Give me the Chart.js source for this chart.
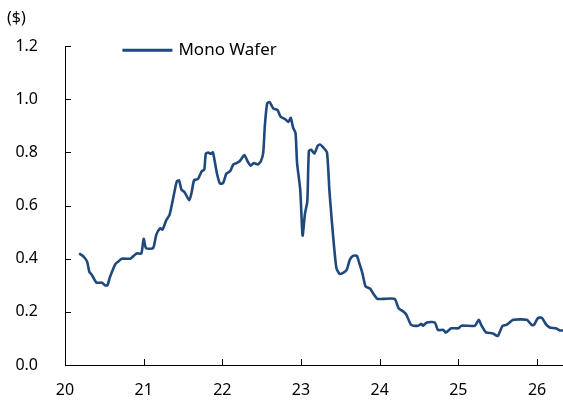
<!DOCTYPE html>
<html>
<head>
<meta charset="utf-8">
<script src="https://cdn.jsdelivr.net/npm/chart.js@4/dist/chart.umd.min.js"></script>
<style>
  html, body { margin: 0; padding: 0; background: #fff; }
  #wrap { width: 563px; height: 405px; }
</style>
</head>
<body>
<div id="wrap"><canvas id="wafer"></canvas></div>
<script>
// year (20 = 2020) and price in $ per wafer
const years = [
  20.18, 20.23, 20.28, 20.31, 20.34, 20.40, 20.47, 20.51, 20.54, 20.57,
  20.64, 20.68, 20.72, 20.83, 20.87, 20.91, 20.97, 21.00, 21.03, 21.12,
  21.16, 21.21, 21.24, 21.29, 21.33, 21.38, 21.42, 21.45, 21.48, 21.52,
  21.58, 21.61, 21.64, 21.69, 21.74, 21.77, 21.79, 21.82, 21.85, 21.88,
  21.93, 21.97, 22.01, 22.05, 22.10, 22.14, 22.18, 22.22, 22.28, 22.32,
  22.36, 22.40, 22.45, 22.49, 22.52, 22.54, 22.57, 22.60, 22.65, 22.70,
  22.74, 22.80, 22.84, 22.87, 22.90, 22.93, 22.95, 22.99, 23.02, 23.05,
  23.08, 23.10, 23.13, 23.17, 23.21, 23.24, 23.28, 23.33, 23.36, 23.39,
  23.42, 23.45, 23.49, 23.54, 23.58, 23.62, 23.66, 23.71, 23.74, 23.78,
  23.82, 23.88, 23.92, 23.97, 24.04, 24.19, 24.24, 24.30, 24.34, 24.40,
  24.49, 24.53, 24.55, 24.60, 24.70, 24.74, 24.81, 24.84, 24.91, 25.00,
  25.04, 25.21, 25.26, 25.29, 25.35, 25.44, 25.50, 25.56, 25.61, 25.70,
  25.87, 25.93, 25.96, 26.01, 26.06, 26.11, 26.16, 26.24, 26.29, 26.33
];
const prices = [
  0.42, 0.41, 0.39, 0.35, 0.34, 0.31, 0.31, 0.30, 0.30, 0.33,
  0.38, 0.39, 0.40, 0.40, 0.41, 0.42, 0.42, 0.475, 0.44, 0.44,
  0.49, 0.515, 0.51, 0.547, 0.566, 0.635, 0.69, 0.695, 0.66, 0.65,
  0.62, 0.65, 0.695, 0.70, 0.73, 0.735, 0.795, 0.80, 0.795, 0.80,
  0.723, 0.683, 0.685, 0.72, 0.73, 0.755, 0.76, 0.767, 0.79, 0.767,
  0.75, 0.76, 0.755, 0.767, 0.80, 0.90, 0.985, 0.99, 0.965, 0.96,
  0.935, 0.925, 0.915, 0.93, 0.893, 0.874, 0.76, 0.66, 0.487, 0.57,
  0.616, 0.805, 0.81, 0.796, 0.824, 0.83, 0.82, 0.80, 0.66, 0.547,
  0.446, 0.365, 0.343, 0.348, 0.358, 0.396, 0.411, 0.411, 0.384, 0.346,
  0.296, 0.287, 0.268, 0.249, 0.249, 0.249, 0.214, 0.201, 0.189, 0.151,
  0.148, 0.155, 0.148, 0.16, 0.16, 0.132, 0.132, 0.122, 0.138, 0.138,
  0.148, 0.148, 0.17, 0.151, 0.123, 0.119, 0.109, 0.147, 0.151, 0.17,
  0.17, 0.151, 0.151, 0.176, 0.178, 0.155, 0.141, 0.138, 0.13, 0.13
];
const xTicks = [20, 21, 22, 23, 24, 25, 26];
const yTicks = [0, 0.2, 0.4, 0.6, 0.8, 1.0, 1.2];

const lineColor = "#1F497D";
const fontFamily = "'Noto Sans', 'DejaVu Sans', sans-serif";

// tick marks pointing into the plot, plus the legend inside the plot
const insideBits = {
  id: "insideBits",
  afterDraw(chart) {
    const { ctx, chartArea, scales } = chart;
    ctx.save();
    ctx.strokeStyle = "#000";
    ctx.lineWidth = 1;
    ctx.beginPath();
    yTicks.forEach((v) => {
      const y = Math.round(scales.y.getPixelForValue(v)) + 0.5;
      ctx.moveTo(chartArea.left, y);
      ctx.lineTo(chartArea.left + 6, y);
    });
    xTicks.forEach((v) => {
      const x = Math.round(scales.x.getPixelForValue(v)) + 0.5;
      ctx.moveTo(x, chartArea.bottom);
      ctx.lineTo(x, chartArea.bottom - 6);
    });
    ctx.stroke();

    // legend
    const ds = chart.data.datasets[0];
    const lx = scales.x.getPixelForValue(20.73);
    const ly = chartArea.top + 4;
    ctx.strokeStyle = ds.borderColor;
    ctx.lineWidth = 3;
    ctx.beginPath();
    ctx.moveTo(lx, ly);
    ctx.lineTo(lx + 50, ly);
    ctx.stroke();
    ctx.fillStyle = "#000";
    ctx.font = "17px " + fontFamily;
    ctx.textBaseline = "middle";
    ctx.fillText(ds.label, lx + 56, ly);
    ctx.restore();
  }
};

new Chart(document.getElementById("wafer"), {
  type: "line",
  data: {
    datasets: [
      {
        label: "Mono Wafer",
        data: years.map((x, i) => ({ x: x, y: prices[i] })),
        borderColor: lineColor,
        borderWidth: 2.6,
        pointRadius: 0,
        tension: 0.2,
        fill: false,
      },
    ],
  },
  options: {
    responsive: true,
    maintainAspectRatio: false,
    animation: false,
    layout: { padding: { left: 7, right: 0, top: 9, bottom: 0 } },
    plugins: {
      legend: { display: false },
      tooltip: { enabled: false },
      title: {
        display: true,
        text: "($)",
        align: "start",
        color: "#000",
        font: { family: fontFamily, size: 16, weight: "normal" },
        padding: { top: 0, bottom: 18 },
      },
    },
    scales: {
      x: {
        type: "linear",
        min: 20,
        max: 26.33,
        grid: { display: false, drawTicks: false },
        border: { display: true, color: "#000", width: 1 },
        afterFit: (scale) => { scale.height = 40; },
        ticks: {
          stepSize: 1,
          includeBounds: false,
          color: "#000",
          padding: 16,
          font: { family: fontFamily, size: 16 },
          callback: (v) => String(v),
        },
      },
      y: {
        min: 0,
        max: 1.2,
        grid: { display: false, drawTicks: false },
        border: { display: true, color: "#000", width: 1 },
        afterFit: (scale) => { scale.width = 58; },
        ticks: {
          stepSize: 0.2,
          color: "#000",
          padding: 27,
          font: { family: fontFamily, size: 16 },
          callback: (v) => v.toFixed(1),
        },
      },
    },
  },
  plugins: [insideBits],
});
</script>
</body>
</html>
